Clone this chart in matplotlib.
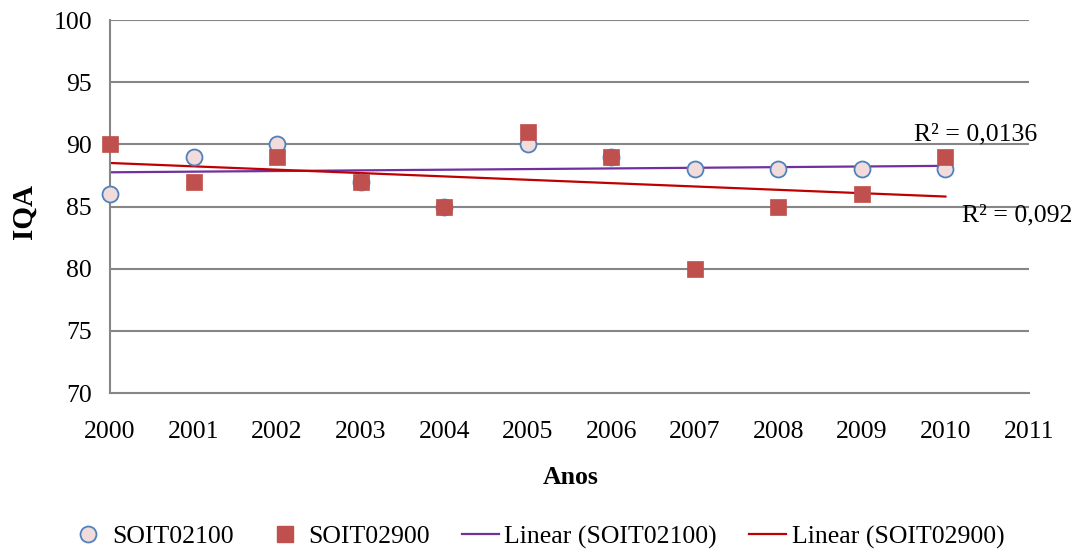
import matplotlib
matplotlib.use("Agg")
import matplotlib.pyplot as plt
from matplotlib.lines import Line2D

plt.rcParams['font.family'] = ['Liberation Serif', 'DejaVu Serif']

years = [2000, 2001, 2002, 2003, 2004, 2005, 2006, 2007, 2008, 2009, 2010]
soit02100 = [86, 89, 90, 87, 85, 90, 89, 88, 88, 88, 88]
soit02900 = [90, 87, 89, 87, 85, 91, 89, 80, 85, 86, 89]
trend_years = [2000, 2010]
trend_02100 = [87.75, 88.27]
trend_02900 = [88.5, 85.8]
r2_02100 = "R² = 0,0136"
r2_02900 = "R² = 0,092"
xticks = list(range(2000, 2012))
yticks = [70, 75, 80, 85, 90, 95, 100]

W, H = 1076, 552
FS = 18.5
fig = plt.figure(figsize=(W/100, H/100), dpi=100)
ax = fig.add_axes([110/W, 1-393/H, (1029-110)/W, (393-20)/H])

grid_c = '#868686'
for v in yticks[1:]:
    ax.axhline(v, color=grid_c, lw=1.5, zorder=1)

purple = '#7030A0'
red = '#C00000'
ax.plot(trend_years, trend_02100, color=purple, lw=1.6, zorder=2)
ax.plot(trend_years, trend_02900, color=red, lw=1.6, zorder=2)

ax.plot(years, soit02100, 'o', ms=11.5, mfc='#F2DCDB', mec='#4F81BD', mew=1.3,
        zorder=3, clip_on=False)
ax.plot(years, soit02900, 's', ms=11.3, mfc='#C0504D', mec='#C0504D', mew=0.5,
        zorder=4, clip_on=False)

ax.set_xlim(2000, 2011)
ax.set_ylim(70, 100)
ax.set_xticks(xticks)
ax.set_yticks(yticks)
ax.tick_params(axis='both', length=0, labelsize=FS)
ax.tick_params(axis='x', pad=20)
ax.tick_params(axis='y', pad=13)
for s in ['top', 'right']:
    ax.spines[s].set_visible(False)
for s in ['left', 'bottom']:
    ax.spines[s].set_color(grid_c)
    ax.spines[s].set_linewidth(1.5)

fig.text(571/W, 1-478/H, 'Anos', ha='center', va='center', fontsize=FS, fontweight='bold')
fig.text(24/W, 1-212/H, 'IQA', ha='center', va='center', fontsize=21, fontweight='bold', rotation=90)

fig.text(976/W, 1-134/H, r2_02100, ha='center', va='center', fontsize=FS)
fig.text(1017/W, 1-215/H, r2_02900, ha='center', va='center', fontsize=FS)

handles = [
    Line2D([], [], ls='none', marker='o', ms=11.5, mfc='#F2DCDB', mec='#4F81BD', mew=1.3),
    Line2D([], [], ls='none', marker='s', ms=11, mfc='#C0504D', mec='#C0504D'),
    Line2D([], [], color=purple, lw=1.6),
    Line2D([], [], color=red, lw=1.6),
]
labels = ['SOIT02100', 'SOIT02900', 'Linear (SOIT02100)', 'Linear (SOIT02900)']
fig.legend(handles, labels, loc='center', bbox_to_anchor=(537/W, 1-537/H), ncol=4,
           frameon=False, fontsize=FS, handlelength=1.45, handletextpad=0.2,
           columnspacing=1.25, borderpad=0, borderaxespad=0)

fig.savefig('out.png', dpi=100)
